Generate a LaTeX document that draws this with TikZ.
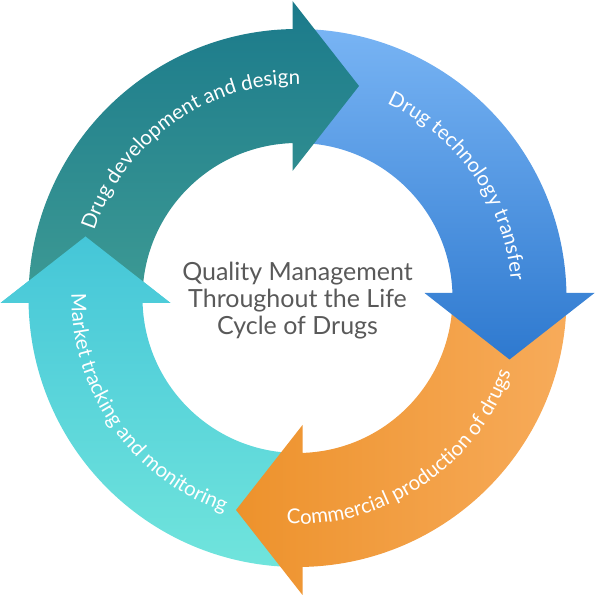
\documentclass[tikz,border=0pt]{standalone}
\usepackage{fontspec}
\setmainfont{Lato}
\usetikzlibrary{decorations.text,calc}
\definecolor{tealtop}{HTML}{1B7A8B}
\definecolor{tealbot}{HTML}{3D9A94}
\definecolor{bluetop}{HTML}{78B4F4}
\definecolor{bluebot}{HTML}{2E79CF}
\definecolor{orleft}{HTML}{ED922C}
\definecolor{orright}{HTML}{F7AB5A}
\definecolor{cyantop}{HTML}{45C6D8}
\definecolor{cyanbot}{HTML}{70E4DC}
\definecolor{titlegray}{HTML}{595959}
\newcommand\lblfmt{\fontsize{20.5}{24}\selectfont}
\begin{document}
\begin{tikzpicture}[x=1pt,y=1pt,
  lbl/.style={decorate,decoration={text along path,text={#1},text align=center,text color=white}}]
\useasboundingbox (0,0) rectangle (595,596);
\coordinate (C) at (297.5,298);
% cyan arrow (left, pointing up)
\shade[top color=cyantop,bottom color=cyanbot]
  ($(C)+(-90:269)$) arc[start angle=-90,end angle=-178.935,radius=269]
  -- (0.5,293) -- (85.5,359.5) -- (170.5,293)
  -- ($(C)+(-178.151:155)$) arc[start angle=-178.151,end angle=-90,radius=155] -- cycle;
% orange arrow (bottom, pointing left)
\shade[left color=orleft,right color=orright]
  ($(C)+(0:269)$) arc[start angle=0,end angle=-88.935,radius=269]
  -- (302.5,1) -- (236,86) -- (302.5,171)
  -- ($(C)+(-88.151:155)$) arc[start angle=-88.151,end angle=0,radius=155] -- cycle;
% blue arrow (right, pointing down)
\shade[top color=bluetop,bottom color=bluebot]
  ($(C)+(90:269)$) arc[start angle=90,end angle=1.065,radius=269]
  -- (594.5,303) -- (509.5,236.5) -- (424.5,303)
  -- ($(C)+(1.849:155)$) arc[start angle=1.849,end angle=90,radius=155] -- cycle;
% teal arrow (top, pointing right)
\shade[top color=tealtop,bottom color=tealbot]
  ($(C)+(180:269)$) arc[start angle=180,end angle=91.065,radius=269]
  -- (292.5,595) -- (359,510) -- (292.5,425)
  -- ($(C)+(91.849:155)$) arc[start angle=91.849,end angle=180,radius=155] -- cycle;
% cyan head over teal start
\begin{scope}
\clip (0.5,293) -- (85.5,359.5) -- (170.5,293) -- cycle;
\shade[top color=cyantop,bottom color=cyanbot]
  ($(C)+(-90:269)$) arc[start angle=-90,end angle=-178.935,radius=269]
  -- (0.5,293) -- (85.5,359.5) -- (170.5,293)
  -- ($(C)+(-178.151:155)$) arc[start angle=-178.151,end angle=-90,radius=155] -- cycle;
\end{scope}
% labels
\path[lbl={|\lblfmt|Drug development and design}]
  ($(C)+(170:214)$) arc[start angle=170,end angle=81,radius=214];
\path[lbl={|\lblfmt|Drug technology transfer}]
  ($(C)+(80:214)$) arc[start angle=80,end angle=-10,radius=214];
\path[lbl={|\lblfmt|Commercial production of drugs}]
  ($(C)+(-101:226)$) arc[start angle=-101,end angle=-11,radius=226];
\path[lbl={|\lblfmt|Market tracking and monitoring}]
  ($(C)+(170:226)$) arc[start angle=170,end angle=260,radius=226];
\node[align=center,text=titlegray,font=\fontsize{25}{27}\selectfont] (title) at (297.5,295)
  {Quality Management\\Throughout the Life\\Cycle of Drugs};
\end{tikzpicture}
\end{document}
